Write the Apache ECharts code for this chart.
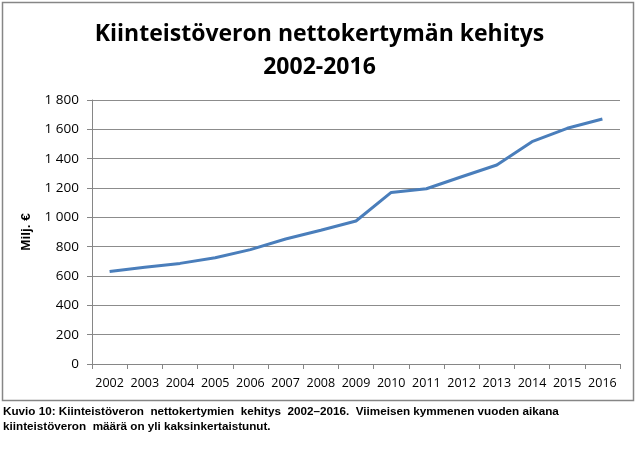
<!DOCTYPE html>
<html><head><meta charset="utf-8">
<script src="https://cdn.jsdelivr.net/npm/echarts@6/dist/echarts.min.js"></script>
<style>html,body{margin:0;padding:0;background:#fff}#c{width:639px;height:451px}</style>
</head><body><div id="c"></div>
<script>
const years = ['2002','2003','2004','2005','2006','2007','2008','2009','2010','2011','2012','2013','2014','2015','2016'];
const values = [630, 660, 686, 725, 780, 852, 912, 975, 1170, 1195, 1277, 1357, 1516, 1607, 1670];
const yTicks = [0, 200, 400, 600, 800, 1000, 1200, 1400, 1600, 1800];

const chart = echarts.init(document.getElementById('c'), null, {renderer: 'canvas'});
const fmt = v => { const s = String(v); return s.length > 3 ? s.slice(0, s.length - 3) + ' ' + s.slice(-3) : s; };
chart.setOption({
  animation: false,
  backgroundColor: '#fff',
  title: {
    text: 'Kiinteistöveron nettokertymän kehitys\n2002-2016',
    left: 'center', top: 13,
    textStyle: {fontFamily: 'Open Sans', fontWeight: 'bold', fontSize: 23, color: '#000', lineHeight: 33, letterSpacing: -1.1}
  },
  grid: {left: 92, right: 19, top: 100, bottom: 87},
  xAxis: {
    type: 'category', data: years, boundaryGap: true,
    axisLine: {lineStyle: {color: '#868686'}},
    axisTick: {show: true, length: 5, lineStyle: {color: '#868686'}, alignWithLabel: false},
    axisLabel: {color: '#000', fontFamily: 'Open Sans', fontSize: 12.5, margin: 13, interval: 0}
  },
  yAxis: {
    type: 'value', min: yTicks[0], max: yTicks[yTicks.length - 1], interval: 200,
    name: 'Milj. €', nameLocation: 'middle', nameGap: 56, nameRotate: 90,
    nameTextStyle: {fontFamily: 'Liberation Sans', fontWeight: 'bold', fontSize: 13.5, color: '#000'},
    axisLine: {show: true, lineStyle: {color: '#868686'}},
    axisTick: {show: true, length: 5, lineStyle: {color: '#868686'}},
    axisLabel: {color: '#000', fontFamily: 'Open Sans', fontSize: 13.5, margin: 13, formatter: fmt},
    splitLine: {lineStyle: {color: '#8c8c8c', width: 1}}
  },
  series: [{
    type: 'line', data: values, symbol: 'none',
    lineStyle: {color: '#4a7ebb', width: 3}
  }],
  graphic: [
    {type: 'rect', shape: {x: 2.5, y: 2.5, width: 631, height: 398}, style: {fill: null, stroke: '#868686', lineWidth: 1.5}, z: -1},
    {type: 'text', left: 3, top: 405, style: {text: 'Kuvio 10: Kiinteistöveron  nettokertymien  kehitys  2002–2016.  Viimeisen kymmenen vuoden aikana\nkiinteistöveron  määrä on yli kaksinkertaistunut.', font: 'bold 11.7px "Liberation Sans Narrow", "Liberation Sans", sans-serif', fill: '#000', lineHeight: 14.5}}
  ]
});
</script></body></html>
